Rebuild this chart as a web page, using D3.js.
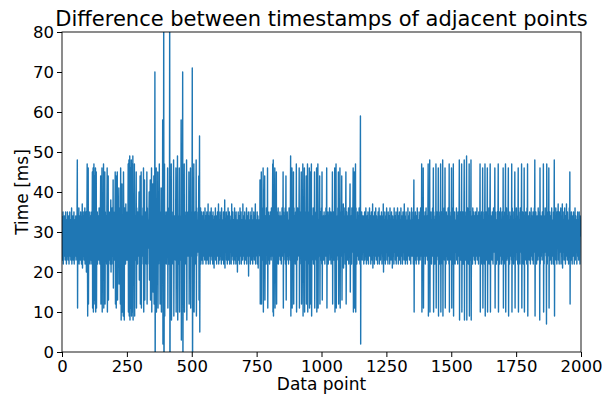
<!DOCTYPE html>
<html>
<head>
<meta charset="utf-8">
<script src="https://cdn.jsdelivr.net/npm/d3@7"></script>
<style>
  body { margin: 0; background: #fff; }
  text { font-family: "DejaVu Sans", sans-serif; }
</style>
</head>
<body>
<div id="chart"></div>
<script>
// Differences between timestamps of adjacent points (ms)
const quietStart = [
  34,23,30,27,35,22,31,26,24,34, 28,33,23,29,35,25,31,22,33,27,
  24,35,29,23,32,26,34,22,30,28, 35,24,27,33,23,31,25,36,22,29,
  32,26,34,23,30,28,35,22,27,33, 24,31,25,34,23
]
const burst1 = [
  29,33,24,35,48,11,34,23,31,27, 36,22,30,25,34,28,23,35,26,31,
  22,33,29,37,21,30,34,24,27,35, 23,31,28,36,22,26,33,25,35,20,
  30,34,47,25,9,36,46,12,33,24, 31,27,35,22,29,34,23,31,26,35,
  22,30,45,11,34,46,10,33,47,12, 29,44,13,35,46,10,24,45,11,33,
  27,35,22,31,24,34,28,23,36,26, 33,22,30,35,44,12,31,25,34,46,
  10,33,23,36,28,47,11,34,24,31, 45,12,35,27,23,34,29,22,36,46,
  10,32,24,44,13,35,28,23,33,26, 35,22,31,38,20,34,27,22,36,29,
  33,24,43,16,35,28,23,34,26,30, 45,12,31,44,11,36,24,30,45,13,
  34,27,22,35,41,17,30,33,25,36, 12,46,31,8,24,35,42,10,28,33,
  23,9,45,34,26,8,36,30,25,34, 22,37,29,35,23,33,26,35,23,31,
  47,10,34,48,9,25,49,8,36,46, 11,30,48,9,33,47,10,24,49,8,
  35,28,34,23,47,9,34,23,31,26, 35,45,11,36,26,33,22,35,28,31,
  24,34,40,18,30,27,44,12,35,23, 45,11,33,26,34,24,31,36,22,46,
  10,34,28,43,13,30,35,24,29,33, 22,27,45,12,36,22,33,26,31,29,
  34,40,18,25,35,43,13,30,24,33, 46,10,35,22,31,42,15,34,27,44,
  12,33,25,70,-10,36,23,34,46,10, 31,27,35,24,45,11,33,22,30,28,
  47,26,34,12,30,35,23,41,10,35, 29,33,24,58,2,35,24,88,-28,31,
  47,9,34,23,31,27,35,22,30,24, 33,27,46,11,36,24,30,35,22,28,
  90,-30,35,24,31,27,47,8,34,23, 30,26,35,22,33,48,9,30,24,34,
  27,31,23,35,46,10,29,33,24,36, 49,8,31,25,34,22,30,46,10,34,
  28,33,23,31,58,3,35,24,30,27, 70,-10,33,25,31,36,47,10,28,34,
  23,30,35,22,31,48,8,35,26,30, 33,24,35,27,45,12,33,22,30,31,
  46,11,35,24,30,27,33,71,-11,30, 35,24,31,47,10,26,33,23,35,29,
  22,31,48,9,36,24,30,27,33,25, 35,29,44,13,35,54,5,31,24,36,
  22,33,27,35,23
]
const quietMid1 = [
  31,25,34,22,29,35,24,30,27,33, 23,36,28,24,34,22,31,26,35,23,
  30,33,25,37,22,28,34,24,31,27, 35,22,29,33,24,36,26,31,23,34,
  28,22,35,25,30,33,21,27,34,24, 31,36,23,29,26,34,22,32,25,35,
  24,30,28,37,22,33,26,31,23,35, 27,24,34,29,22,36,25,30,33,23,
  31,26,35,22,28,34,24,38,21,30, 33,25,29,35,23,27,34,22,31,26,
  36,23,30,28,24,35,22,33,27,31, 25,34,22,29,37,24,31,26,35,23,
  28,33,22,30,25,36,27,23,34,29, 22,35,26,31,24,33,20,30,28,35,
  23,32,26,34,22,29,36,24,31,27, 35,22,28,33,25,30,23,37,26,31,
  24,34,29,22,35,27,31,23,33,25, 30,36,22,28,34,24,31,26,35,19,
  29,33,24,30,27,35,22,31,25,34, 23,28,36,26,31,22,33,29,24,35,
  27,23,34,30,25,37,22,29,33,26, 31,24,35,22,28,34,21,30,26,33
]
const burst2 = [
  28,33,24,43,12,35,26,31,45,12, 34,23,30,36,25,46,10,33,27,22,
  35,44,13,31,24,34,28,22,36,29, 33,25,46,11,30,35,23,31,26,34,
  22,30,35,24,33,28,23,36,27,31, 24,34,47,10,48,9,33,25,30,35,
  46,11,28,34,23,31,45,12,35,22, 30,33,25,36,22,29,34,24,31,27,
  35,23,30,26,34,22,31,28,36,24, 33,27,45,11,35,23,30,34,25,29,
  36,22,31,44,13,34,26,23,35,28, 31,24,33,22,30,36,25,34,27,23,
  35,49,9,30,24,34,46,11,31,28, 33,23,45,12,36,27,24,34,29,22,
  35,31,25,47,10,33,28,23,36,26, 30,34,24,31,46,11,35,22,29,33,
  25,36,45,12,30,23,34,28,47,9, 34,24,31,22,46,10,33,27,35,23,
  30,44,12,36,26,31,47,10,34,22, 29,35,24,46,11,33,45,12,30,27,
  35,47,9,31,23,34,26,30,36,22, 28,33,25,45,11,35,24,31,27,34,
  23,46,10,30,35,22,47,11,33,26, 31,24,34,44,12,29,35,23,31,27,
  36,22,45,13,33,25,30,34,23,28, 35,26,31,22,34,29,24,36,27,31,
  46,11,33,24,30,35,22,28,34,25, 31,36,23,29,33,26,35,22,30,27,
  34,24,45,12,31,28,35,23,33,26, 30,46,10,35,22,31,47,11,34,24,
  28,33,25,36,23,45,12,30,34,27, 22,46,11,35,26,31,24,33,44,13,
  30,35,23,28,37,21,34,25,31,27, 36,22,30,33,45,12,24,35,28,31,
  23,34,26,30,36,22,29,33,25,35, 42,15,31,24,34,27,22,36,29,33,
  25,35,46,10,31,28,45,11,34,23, 30,47,10,36,25,31,22,33,27,35,
  24,30,34,23,29,36,26,31,22,35, 59,2,30,33,24,35,27,23,34,29
]
const quietMid2 = [
  31,25,34,22,30,27,35,23,29,33, 24,36,28,22,31,26,34,23,30,35,
  27,22,33,29,25,36,24,31,28,34, 22,30,35,26,33,23,29,37,21,31,
  34,25,28,33,22,35,27,30,24,36, 29,23,34,31,25,33,22,28,35,26,
  31,24,36,22,30,27,34,23,33,28, 25,35,29,22,31,26,34,24,37,20,
  30,33,27,23,35,28,22,31,25,34, 29,36,23,30,26,33,22,35,27,31,
  24,34,28,22,36,25,30,33,23,29, 35,26,31,21,34,27,24,33,30,22,
  36,28,25,31,34,23,29,35,22,30, 27,33,24,36,26,31,22,34,28,25,
  35,23,30,33,27,22,36,29,24,31, 34,26,22,30,35,25,28,33,23,37,
  29,24,31,22,34,27,35,23,30,26, 33,22,29,36,25,31,24,34,28,23,
  35,30,26,33,22,31,27,36,24,29
]
const burst3 = [
  28,33,24,35,22,31,43,10,34,26, 30,23,35,27,31,22,34,29,24,36,
  26,31,23,33,28,22,35,25,30,34, 23,29,36,24,31,27,47,10,33,25,
  35,22,46,11,30,34,24,31,27,35, 22,33,28,36,24,30,26,34,23,31,
  35,47,9,33,24,30,27,48,10,34, 23,31,35,26,22,33,29,24,36,28,
  31,46,10,35,24,30,33,22,27,34, 25,47,11,31,23,35,28,33,24,30,
  46,9,34,26,31,22,35,28,33,47, 10,30,24,35,27,33,22,48,9,31,
  34,25,29,36,23,31,46,11,33,27, 22,35,30,24,34,28,23,31,36,26,
  33,22,47,10,35,24,30,28,34,23, 31,46,11,36,25,30,33,22,47,9,
  34,27,24,35,30,22,33,28,31,25, 36,23,30,34,26,22,35,29,33,24,
  31,48,8,34,25,30,35,23,29,33, 47,10,31,24,35,27,22,33,30,36,
  48,8,34,26,31,23,35,28,30,49, 8,33,24,36,27,31,22,34,29,47,
  9,30,35,23,31,26,48,8,34,25, 30,33,22,36,27,31,24,35,29,23,
  34,26,31,22,35,28,33,24,30,36, 23,29,34,25,31,22,35,27,33,24,
  30,47,10,34,23,31,28,35,22,33, 26,46,11,35,24,30,33,27,22,34,
  47,9,31,25,35,28,23,33,30,46, 10,34,24,31,27,36,22,33,29,35,
  47,10,30,24,34,26,31,23,35,28, 33,22,30,36,25,31,27,34,46,11,
  35,24,29,33,22,31,26,35,23,30, 34,47,10,31,25,35,28,22,33,27,
  36,24,30,33,22,29,35,26,31,23, 46,11,34,27,30,24,35,22,33,47,
  10,31,25,36,28,23,34,30,24,35, 46,9,33,26,31,22,35,28,30,24,
  34,27,23,47,10,36,25,31,29,33, 22,35,30,24,34,45,11,31,27,33,
  23,36,28,30,25,34,22,31,46,10, 35,27,33,24,30,22,36,29,31,25,
  34,47,11,30,23,35,28,33,22,31, 26,46,10,34,24,31,27,35,23,30,
  33,22,36,28,47,9,31,25,34,27, 30,23,35,26,33,22,31,29,36,24,
  28,34,23,31,27,35,22,30,33,25, 36,29,48,9,31,24,35,27,33,22,
  30,34,25,31,23,36,28,33,24,30, 35,8,46,22,31,27,34,24,30,33,
  23,35,28,31,26,47,10,34,22,30, 33,25,36,27,31,24,29,7,47,34,
  22,31,26,35,30,24,46,11,33,28, 35,23,30,34,26,31,22,36,29,24,
  33,27,31,22,35,25,30,48,9,34, 24,31,27,36,23,33,28,22,35,30,
  26,34,37,23,31,28,22,35,29,33, 25,31,36,22,30,27,34,24,37,21,
  33,28,31,25,35,23,30,36,26,31, 22,34,29,24,37,27,31,23,35,30,
  25,33,22,31,28,36,24,45,12,34, 27,30,23,35,26,31,22,34,29,33
]
const quietEnd = [
  24,35,28,31,22,33,27,36,23,30, 34,25,29,33,22,31,26,35,24,30,
  33,23,28,35,26,31,22,34,29,33
]
const xTicks = [0, 250, 500, 750, 1000, 1250, 1500, 1750, 2000]
const yTicks = [0, 10, 20, 30, 40, 50, 60, 70, 80]

const values = [].concat(quietStart, burst1, quietMid1, burst2, quietMid2, burst3, quietEnd)

const width = 602
const height = 396
const margin = { top: 32, right: 21, bottom: 44, left: 62 }

const svg = d3.select("#chart")
    .append("svg")
    .attr("width", width)
    .attr("height", height)

const x = d3.scaleLinear().domain([0, 2000]).range([margin.left, width - margin.right])
const y = d3.scaleLinear().domain([0, 80]).range([height - margin.bottom, margin.top])

svg.append("clipPath")
    .attr("id", "plot-clip")
    .append("rect")
    .attr("x", margin.left)
    .attr("y", margin.top)
    .attr("width", width - margin.left - margin.right)
    .attr("height", height - margin.top - margin.bottom)

const line = d3.line()
    .x((d, i) => x(i))
    .y(d => y(d))

svg.append("path")
    .datum(values)
    .attr("clip-path", "url(#plot-clip)")
    .attr("d", line)
    .style("fill", "none")
    .style("stroke", "#1f77b4")
    .style("stroke-width", 1.4)
    .style("stroke-linejoin", "round")

// axes
const xAxis = svg.append("g")
    .attr("transform", "translate(0," + (height - margin.bottom) + ")")
    .call(d3.axisBottom(x).tickValues(xTicks).tickFormat(d3.format("d")).tickSize(5).tickPadding(3))
const yAxis = svg.append("g")
    .attr("transform", "translate(" + margin.left + ",0)")
    .call(d3.axisLeft(y).tickValues(yTicks).tickFormat(d3.format("d")).tickSize(5).tickPadding(3))

for (const g of [xAxis, yAxis]) {
    g.selectAll("text")
        .style("font-size", "16.5px")
        .style("font-family", "DejaVu Sans")
        .style("fill", "#000")
    g.selectAll("line").style("stroke", "#000")
    g.select(".domain").remove()
}

// frame round the plot
svg.append("rect")
    .attr("x", margin.left)
    .attr("y", margin.top)
    .attr("width", width - margin.left - margin.right)
    .attr("height", height - margin.top - margin.bottom)
    .style("fill", "none")
    .style("stroke", "#000")
    .style("stroke-width", 0.9)

svg.append("text")
    .attr("x", (margin.left + width - margin.right) / 2)
    .attr("y", 26)
    .attr("text-anchor", "middle")
    .style("font-size", "21px")
    .text("Difference between timestamps of adjacent points")

svg.append("text")
    .attr("x", (margin.left + width - margin.right) / 2)
    .attr("y", 390)
    .attr("text-anchor", "middle")
    .style("font-size", "17px")
    .text("Data point")

svg.append("text")
    .attr("transform", "translate(28," + ((margin.top + height - margin.bottom) / 2) + ") rotate(-90)")
    .attr("text-anchor", "middle")
    .style("font-size", "17px")
    .text("Time [ms]")
</script>
</body>
</html>
